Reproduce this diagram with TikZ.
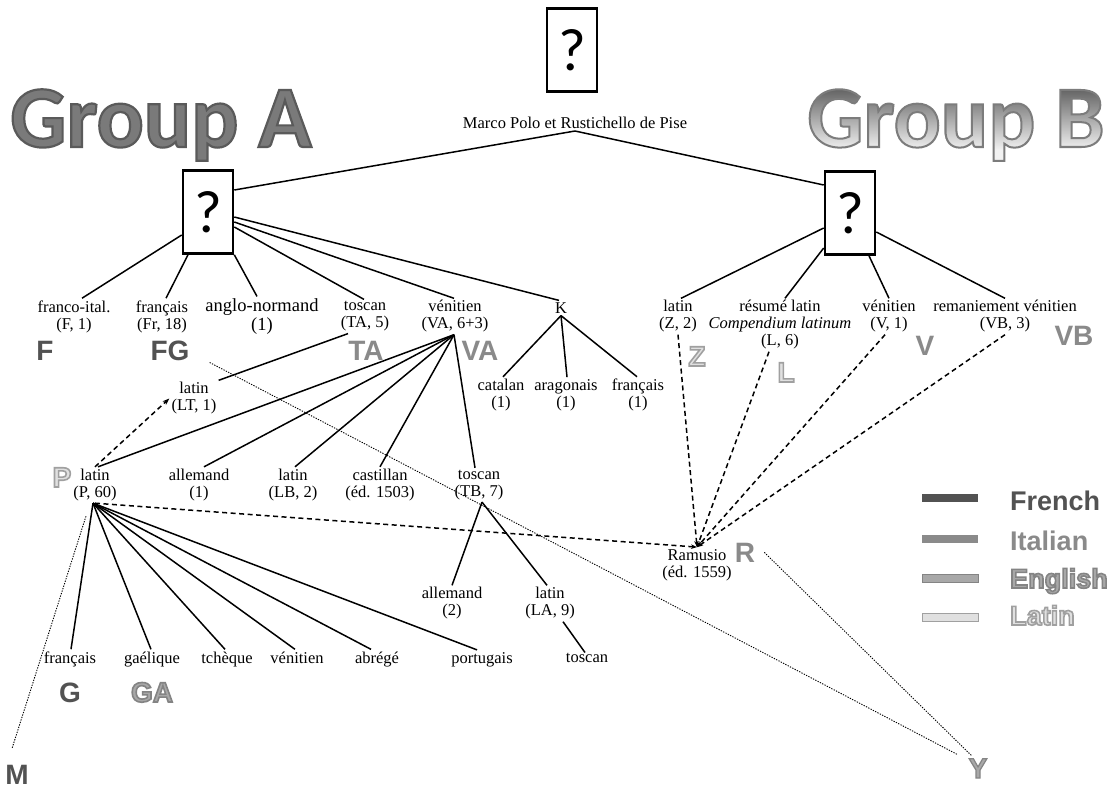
\documentclass[tikz,border=0pt]{standalone}
\usepackage{fontspec}
\setmainfont{Liberation Serif}
\newfontfamily\labfont{Liberation Sans}
\newfontfamily\calfont{Carlito}
\usetikzlibrary{arrows.meta}

\definecolor{frc}{HTML}{525252}
\definecolor{itc}{HTML}{8A8A8A}
\definecolor{enfill}{HTML}{A8A8A8}
\definecolor{enline}{HTML}{848484}
\definecolor{lafill}{HTML}{E0E0E0}
\definecolor{laline}{HTML}{A0A0A0}
\definecolor{gafill}{HTML}{7A7A7A}
\definecolor{gbtop}{HTML}{666666}
\definecolor{gbbot}{HTML}{F2F2F2}

% stroke colours of the outlined letters, as PDF rgb triples
\def\galine{0.353 0.353 0.353}
\def\gbline{0.486 0.486 0.486}
\def\enline{0.518 0.518 0.518}
\def\laline{0.627 0.627 0.627}

% outlined text: #1 render mode (1 stroke, 2 fill and stroke), #2 stroke rgb, #3 width, #4 text
\newcommand\outl[4]{\special{pdf:literal direct #1 Tr #3 w #2 RG}#4\special{pdf:literal direct 0 Tr}}

\tikzset{
  qbox/.style={draw, line width=2.6pt, minimum width=50pt, minimum height=83pt,
    inner sep=0pt, font=\calfont\fontsize{60}{60}\selectfont},
  ms/.style={align=center, inner sep=2pt, font=\fontsize{16.5}{17}\selectfont},
  msb/.style={ms, anchor=base},
  solidlink/.style={line width=1.5pt},
  dlink/.style={line width=1.5pt, dash pattern=on 5pt off 3.5pt},
  dotline/.style={line width=0.9pt, dash pattern=on 1.3pt off 1.3pt},
  siglum/.style={anchor=base, inner sep=1pt, font=\labfont\bfseries\fontsize{28}{28}\selectfont},
  legtext/.style={anchor=base west, inner sep=0pt, font=\labfont\bfseries\fontsize{27}{27}\selectfont},
  legbar/.style={minimum width=56pt, minimum height=8pt, inner sep=0pt, line width=0.8pt},
  grp/.style={anchor=base, inner sep=0pt, font=\calfont\bfseries\fontsize{88}{88}\selectfont},
  tipR/.style={-{Stealth[length=6pt,width=4.5pt]}},
}

\begin{document}
\begin{tikzpicture}[x=1pt,y=-1pt]
\useasboundingbox (0,0) rectangle (1115,789);
\fill[white] (0,0) rectangle (1115,789);

% ---- group headings ----
\node[grp, text=gafill] (grpA) at (161,147) {\outl{2}{\galine}{2.2}{Group A}};
\node[grp, text=gbtop] (grpB) at (956,147) {Group B};
\begin{scope}[blend mode=lighten]
  \shade[top color=gbtop, bottom color=gbbot] (800,90) rectangle (1112,150);
  \fill[gbbot] (800,150) rectangle (1112,172);
\end{scope}
\node[grp] (grpBo) at (956,147) {\outl{1}{\gbline}{2}{Group B}};

% ---- archetype and the two branches ----
\node[qbox] (q0) at (572,50) {?};
\node[ms] (mp) at (575,123) {Marco Polo et Rustichello de Pise};
\node[qbox] (qA) at (208,212) {?};
\node[qbox] (qB) at (850,213) {?};
\draw[solidlink] (mp.south) -- ([yshift=22pt]qA.east);
\draw[solidlink] (mp.south) -- ([yshift=28pt]qB.west);

% ---- group A, first generation ----
\node[ms] (fi) at (74,316.5) {franco-ital.\\(F, 1)};
\node[ms] (fr) at (162,316.5) {français\\(Fr, 18)};
\node[ms, font=\fontsize{18.5}{19}\selectfont] (an) at (262,316.5) {anglo-normand\\(1)};
\node[ms] (ta) at (365,316.5) {toscan\\(TA, 5)};
\node[ms] (va) at (455,316.5) {vénitien\\(VA, 6+3)};
\node[ms] (k) at (561,308) {K};
\draw[solidlink] ([yshift=-23pt]qA.west) -- ([xshift=8pt]fi.north);
\draw[solidlink] ([xshift=-20pt]qA.south) -- ([xshift=4pt]fr.north);
\draw[solidlink] (qA.south east) -- ([xshift=-5pt]an.north);
\draw[solidlink] ([yshift=-15pt]qA.east) -- ([xshift=-1pt]ta.north);
\draw[solidlink] ([yshift=-10pt]qA.east) -- ([xshift=-1pt]va.north);
\draw[solidlink] ([yshift=-5pt]qA.east) -- ([xshift=-2pt]k.north);

% ---- K ----
\node[ms] (kc) at (501,395) {catalan\\(1)};
\node[ms] (ka) at (566,395) {aragonais\\(1)};
\node[ms] (kf) at (638,395) {français\\(1)};
\draw[solidlink] (k.south) -- ([xshift=2pt]kc.north);
\draw[solidlink] (k.south) -- ([xshift=1pt]ka.north);
\draw[solidlink] (k.south) -- ([xshift=-1pt]kf.north);

% ---- group B ----
\node[ms] (rz) at (678,316.5) {latin\\(Z, 2)};
\node[ms] (rl) at (780,325) {résumé latin\\\textit{Compendium latinum}\\(L, 6)};
\node[ms] (rv) at (889,316.5) {vénitien\\(V, 1)};
\node[ms] (rvb) at (1005,316.5) {remaniement vénitien\\(VB, 3)};
\draw[solidlink] ([yshift=-15pt]qB.west) -- ([xshift=3pt]rz.north);
\draw[solidlink] ([yshift=-35pt]qB.west) -- ([xshift=5pt]rl.north);
\draw[solidlink] ([xshift=19pt]qB.south) -- (rv.north);
\draw[solidlink] ([yshift=-19pt]qB.east) -- (rvb.north);

% ---- Venetian and Tuscan descendants ----
\node[ms] (lt) at (194,398.5) {latin\\(LT, 1)};
\draw[solidlink] ([xshift=-17pt]ta.south) -- (lt.north east);
\node[ms] (pl) at (95,485) {latin\\(P, 60)};
\node[ms] (al1) at (199,485) {allemand\\(1)};
\node[ms] (lb) at (293,485) {latin\\(LB, 2)};
\node[ms] (ca) at (380,485) {castillan\\(éd. 1503)};
\node[ms] (tb) at (479,485) {toscan\\(TB, 7)};
\draw[solidlink] ([xshift=-1pt]va.south) -- ([xshift=3pt]pl.north);
\draw[solidlink] ([xshift=-1pt]va.south) -- ([xshift=5pt]al1.north);
\draw[solidlink] ([xshift=-1pt]va.south) -- ([xshift=2pt]lb.north);
\draw[solidlink] ([xshift=-1pt]va.south) -- (ca.north);
\draw[solidlink] ([xshift=-1pt]va.south) -- ([xshift=-4pt]tb.north);
\draw[dlink, -{Stealth[length=7pt,width=5pt]}] (pl.north) -- (lt.west);

\node[ms] (al2) at (452,603.5) {allemand\\(2)};
\node[ms] (la) at (550,603.5) {latin\\(LA, 9)};
\node[msb] (ts) at (587,662) {toscan};
\draw[solidlink] ([xshift=3pt]tb.south) -- (al2.north);
\draw[solidlink] ([xshift=3pt]tb.south) -- ([xshift=-3pt]la.north);
\draw[solidlink] ([xshift=13pt]la.south) -- ([xshift=-2pt,yshift=-2pt]ts.north);

% ---- descendants of P ----
\node[msb] (pf) at (70,663) {français};
\node[msb] (pg) at (152,663) {gaélique};
\node[msb] (pt) at (227,663) {tchèque};
\node[msb] (pv) at (297,663) {vénitien};
\node[msb] (pa) at (377,663) {abrégé};
\node[msb] (pp) at (482,663) {portugais};
\foreach \n/\s in {pf/1, pg/-1, pt/-2, pv/-2, pa/-6, pp/-5}
  \draw[solidlink] ([xshift=-2pt]pl.south) -- ([xshift=\s pt]\n.north);

% ---- Ramusio ----
\node[ms] (ram) at (697,565) {Ramusio\\(éd. 1559)};
\draw[dlink, tipR] (pl.south) -- (ram.north);
\draw[dlink, tipR] (rz.south) -- (ram.north);
\draw[dlink, tipR] ([xshift=-11pt]rl.south) -- (ram.north);
\draw[dlink, tipR] ([xshift=-4pt]rv.south) -- (ram.north);
\draw[dlink, tipR] (rvb.south) -- (ram.north);

% ---- sigla ----
\node[siglum, text=frc] (sF) at (45,360) {F};
\node[siglum, text=frc] (sFG) at (170,360) {FG};
\node[siglum, text=itc] (sTA) at (366,360) {TA};
\node[siglum, text=itc] (sVA) at (480,360) {VA};
\node[siglum, text=lafill] (sZ) at (697,366) {\outl{2}{\laline}{1.6}{Z}};
\node[siglum, text=lafill] (sL) at (786,382) {\outl{2}{\laline}{1.6}{L}};
\node[siglum, text=itc] (sV) at (925,355) {V};
\node[siglum, text=itc] (sVB) at (1074,345) {VB};
\node[siglum, text=lafill] (sP) at (62,487) {\outl{2}{\laline}{1.6}{P}};
\node[siglum, text=itc] (sR) at (745,562) {R};
\node[siglum, text=frc] (sG) at (70,702) {G};
\node[siglum, text=enfill] (sGA) at (152,702) {\outl{2}{\enline}{1.6}{GA}};
\node[siglum, text=frc] (sM) at (17,784) {M};
\node[siglum, text=enfill] (sY) at (978,778) {\outl{2}{\enline}{1.2}{Y}};

% ---- dotted links ----
\draw[dotline] ([xshift=19pt,yshift=-1pt]sFG.south east) -- ([xshift=-10pt,yshift=3pt]sY.north west);
\draw[dotline] ([xshift=8pt]sR.east) -- ([xshift=4pt,yshift=2pt]sY.north west);
\draw[dotline] ([xshift=-9pt,yshift=-13pt]pl.south) -- ([xshift=-5pt,yshift=15pt]sM.north);

% ---- legend ----
\node[legbar, fill=frc] (barF) at (950,498) {};
\node[legbar, fill=itc] (barI) at (950,538.5) {};
\node[legbar, fill=enfill, draw=enline] (barE) at (950,578) {};
\node[legbar, fill=lafill, draw=laline] (barL) at (950,617) {};
\node[legtext, text=frc] (tF) at (1010,510) {French};
\node[legtext, text=itc] (tI) at (1010,550) {Italian};
\node[legtext, text=enfill] (tE) at (1010,588) {\outl{2}{\enline}{1.6}{English}};
\node[legtext, text=lafill] (tL) at (1010,625) {\outl{2}{\laline}{1.6}{Latin}};
\end{tikzpicture}
\end{document}
